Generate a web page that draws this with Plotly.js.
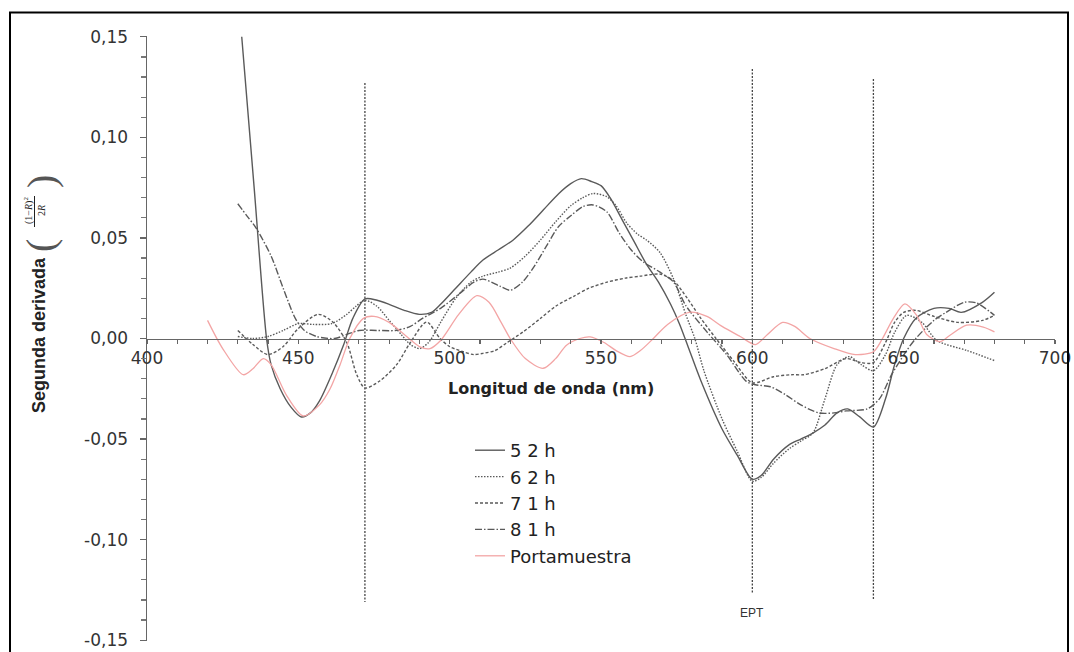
<!DOCTYPE html>
<html>
<head>
<meta charset="utf-8">
<script src="https://cdn.plot.ly/plotly-3.0.1.min.js"></script>
<style>html,body{margin:0;padding:0;background:#fff;}#chart{width:1074px;height:652px;}</style>
</head>
<body>
<div id="chart"></div>
<script>
// ---- data (wavelength nm, second derivative) ----
const seriesNames = ["5 2 h", "6 2 h", "7 1 h", "8 1 h", "Portamuestra"];

const wl52 = [431.3, 435.4, 439.5, 441, 444, 447.5, 451, 454, 457, 461, 465, 468, 472, 476, 480, 485, 490, 494, 497, 502, 507, 511, 516, 521, 526, 531, 536, 540, 543.5, 547, 550, 553, 557, 561, 565, 569, 573, 576, 579, 583, 590, 595, 600, 603, 607, 612, 616, 620, 624, 628, 631.5, 635.5, 640, 644, 647, 650, 654, 660, 665, 669, 676, 680];
const v52 = [0.150, 0.075, 0.000, -0.013, -0.025, -0.034, -0.039, -0.037, -0.031, -0.018, -0.003, 0.010, 0.0197, 0.019, 0.017, 0.014, 0.012, 0.013, 0.017, 0.025, 0.033, 0.039, 0.044, 0.049, 0.056, 0.064, 0.072, 0.077, 0.0795, 0.078, 0.076, 0.070, 0.059, 0.048, 0.037, 0.028, 0.017, 0.007, -0.005, -0.021, -0.045, -0.058, -0.070, -0.068, -0.060, -0.053, -0.050, -0.047, -0.043, -0.037, -0.035, -0.039, -0.044, -0.030, -0.013, 0.000, 0.010, 0.015, 0.015, 0.013, 0.018, 0.023];

const wl62 = [430, 435, 440, 445, 450, 455, 461, 466, 469, 472, 476, 480, 484, 487, 490, 493, 497, 502, 507, 511, 516, 520, 525, 530, 535, 540, 544, 547.4, 551.9, 555, 558.5, 562, 565, 569.5, 574, 578, 581, 584, 590, 595, 600, 603, 607, 612, 616, 620, 624, 628, 632, 636, 640, 644, 647, 651, 656, 661, 671, 680];
const v62 = [0.001, 0.000, 0.001, 0.004, 0.0074, 0.007, 0.0074, 0.012, 0.016, 0.019, 0.016, 0.009, 0.002, -0.003, -0.005, -0.002, 0.008, 0.020, 0.028, 0.031, 0.033, 0.035, 0.041, 0.049, 0.058, 0.066, 0.070, 0.0721, 0.0705, 0.066, 0.0574, 0.052, 0.049, 0.0427, 0.0295, 0.012, 0.000, -0.016, -0.040, -0.056, -0.071, -0.069, -0.062, -0.055, -0.051, -0.047, -0.030, -0.013, -0.009, -0.013, -0.016, -0.008, 0.003, 0.0115, 0.008, -0.001, -0.006, -0.011];

const wl71 = [430, 435, 440, 445, 450, 456.6, 461.5, 466, 469.3, 472, 477, 482.5, 487, 492.4, 496.8, 500, 504.5, 508, 511, 515, 519, 524.3, 530, 535, 541, 546, 552, 558, 563, 569.5, 574, 578.5, 583, 588, 594, 600, 607, 613, 617, 624, 631, 636, 640, 644, 647, 650, 654, 660, 668, 676, 680];
const v71 = [0.004, -0.003, -0.008, -0.004, 0.005, 0.012, 0.008, -0.002, -0.018, -0.0246, -0.021, -0.013, -0.002, 0.0082, 0.000, -0.004, -0.0066, -0.008, -0.0074, -0.006, -0.002, 0.0033, 0.010, 0.016, 0.021, 0.025, 0.028, 0.030, 0.031, 0.032, 0.0287, 0.020, 0.010, 0.000, -0.0115, -0.022, -0.019, -0.018, -0.018, -0.015, -0.010, -0.012, -0.012, -0.002, 0.008, 0.013, 0.014, 0.011, 0.008, 0.009, 0.0115];

const wl81 = [430, 433, 436, 441, 445, 449, 452, 456, 462, 466, 470, 476, 482, 487, 491, 497, 503, 508, 511, 516.6, 520, 524, 528, 532, 536, 540, 544, 547.4, 551.9, 556, 560, 564, 569.5, 574, 578, 585, 591.5, 598, 601, 606, 611, 616, 622, 627, 631, 638, 642, 646, 651, 654, 660, 664, 670, 674, 680];
const v81 = [0.067, 0.061, 0.055, 0.041, 0.025, 0.010, 0.004, 0.001, 0.000, 0.002, 0.004, 0.004, 0.004, 0.006, 0.010, 0.015, 0.022, 0.028, 0.0295, 0.026, 0.024, 0.028, 0.036, 0.046, 0.0557, 0.061, 0.0656, 0.0664, 0.063, 0.0525, 0.044, 0.038, 0.033, 0.028, 0.0164, 0.0033, -0.008, -0.0213, -0.023, -0.024, -0.028, -0.033, -0.037, -0.037, -0.036, -0.035, -0.030, -0.018, -0.006, 0.000, 0.009, 0.013, 0.018, 0.0177, 0.0115];

const wlPorta = [420, 425, 431.8, 435, 438.4, 441, 446, 451.6, 457, 460.5, 463.8, 467, 471.5, 475, 480, 485, 490, 493.5, 497, 503, 509, 513, 517, 520, 525, 530.9, 535, 538.6, 543, 546.4, 551, 555, 559.6, 563, 567.3, 572, 579.4, 585, 590, 596, 601, 605, 610, 614, 619, 627, 634, 640, 643, 646.6, 650.4, 654.3, 657.6, 662, 665.3, 670.8, 676.3, 680];
const vPorta = [0.009, -0.005, -0.018, -0.015, -0.010, -0.013, -0.028, -0.0385, -0.033, -0.025, -0.013, 0.000, 0.010, 0.011, 0.008, 0.002, -0.004, -0.005, -0.001, 0.012, 0.0213, 0.018, 0.008, 0.000, -0.010, -0.0148, -0.010, -0.0033, 0.000, 0.0008, -0.002, -0.006, -0.009, -0.006, 0.000, 0.007, 0.0131, 0.011, 0.006, 0.001, -0.003, 0.002, 0.008, 0.006, 0.000, -0.005, -0.008, -0.0066, 0.000, 0.010, 0.0172, 0.0115, 0.002, -0.0016, 0.0016, 0.0066, 0.0057, 0.0033];

// reference wavelengths (vertical dotted lines)
const refWl = [472, 600, 640];
const refTop = [0.127, 0.134, 0.129];
const refBottom = [-0.131, -0.127, -0.130];
const refLabel = ["", "EPT", ""];

// ticks
const xTickVals = [400, 450, 500, 550, 600, 650, 700];
const xTickText = ["400", "450", "500", "550", "600", "650", "700"];
const yTickVals = [-0.15, -0.10, -0.05, 0.00, 0.05, 0.10, 0.15];
const yTickText = ["-0,15", "-0,10", "-0,05", "0,00", "0,05", "0,10", "0,15"];

// ---- figure ----
const gray = "#5a5a5a";
const pink = "#f3a5a5";
const W = 1074, H = 652, mL = 147, mR = 19, mT = 36, mB = 11;
const pw = W - mL - mR, ph = H - mT - mB;
const px = x => (x - mL) / pw;
const py = y => (H - mB - y) / ph;

const styles = [
  {color: gray, dash: "solid", width: 1.4},
  {color: gray, dash: "1.5px,1.5px", width: 1.4},
  {color: gray, dash: "3px,2px", width: 1.4},
  {color: gray, dash: "7px,2px,1.5px,2px", width: 1.4},
  {color: pink, dash: "solid", width: 1.3}
];
const xs = [wl52, wl62, wl71, wl81, wlPorta];
const ys = [v52, v62, v71, v81, vPorta];

const traces = [];
for (let i = 0; i < refWl.length; i++) {
  traces.push({
    x: [refWl[i], refWl[i]], y: [refTop[i], refBottom[i]],
    mode: "lines", line: {color: "#444", width: 1.3, dash: "2px,1.5px"},
    showlegend: false, hoverinfo: "skip"
  });
}
for (let i = 0; i < seriesNames.length; i++) {
  traces.push({
    x: xs[i], y: ys[i], name: seriesNames[i], legendgroup: "g" + i,
    mode: "lines",
    line: {color: styles[i].color, dash: styles[i].dash, width: styles[i].width, shape: "spline", smoothing: 0.8}
  });
}

const annotations = [
  {xref: "paper", yref: "paper", x: px(551), y: py(389), text: "<b>Longitud de onda (nm)</b>", showarrow: false,
   font: {family: "DejaVu Sans, Arial, sans-serif", size: 16, color: "#222"}, xanchor: "center", yanchor: "middle"},
  {xref: "paper", yref: "paper", x: px(39), y: py(335), text: "<b>Segunda derivada</b>", showarrow: false, textangle: -90,
   font: {family: "Liberation Sans, Arial, sans-serif", size: 18, color: "#222"}, xanchor: "center", yanchor: "middle"},
  {xref: "paper", yref: "paper", x: px(28), y: py(211), text: "(1−<i>R</i>)<sup>2</sup>", showarrow: false, textangle: -90,
   font: {family: "Liberation Serif, serif", size: 10, color: "#222"}, xanchor: "center", yanchor: "middle"},
  {xref: "paper", yref: "paper", x: px(41), y: py(211), text: "2<i>R</i>", showarrow: false, textangle: -90,
   font: {family: "Liberation Serif, serif", size: 10, color: "#222"}, xanchor: "center", yanchor: "middle"},
  {xref: "paper", yref: "paper", x: px(41), y: py(246), text: "(", showarrow: false, textangle: -90,
   font: {family: "Liberation Serif, serif", size: 40, color: "#555"}, xanchor: "center", yanchor: "middle"},
  {xref: "paper", yref: "paper", x: px(41), y: py(182), text: ")", showarrow: false, textangle: -90,
   font: {family: "Liberation Serif, serif", size: 40, color: "#555"}, xanchor: "center", yanchor: "middle"}
];
for (let i = 0; i < refWl.length; i++) {
  if (refLabel[i]) {
    annotations.push({x: refWl[i], y: refBottom[i], xref: "x", yref: "y", text: refLabel[i], showarrow: false,
      yanchor: "top", yshift: -10, font: {family: "Liberation Sans, Arial, sans-serif", size: 12, color: "#333"}});
  }
}

const layout = {
  width: W, height: H,
  margin: {l: mL, r: mR, t: mT, b: mB},
  paper_bgcolor: "#fff", plot_bgcolor: "#fff",
  separators: ",.",
  showlegend: true,
  legend: {x: px(470), y: py(432), xanchor: "left", yanchor: "top", traceorder: "grouped", tracegroupgap: 0,
    font: {family: "DejaVu Sans, Arial, sans-serif", size: 18, color: "#222"}, bgcolor: "rgba(0,0,0,0)"},
  xaxis: {
    range: [400, 700], anchor: "free", position: 0.5, showline: true, linecolor: "#666", linewidth: 1.5,
    ticks: "outside", ticklen: 4, tickcolor: "#666", tickwidth: 1.2,
    tickvals: xTickVals, ticktext: xTickText, ticklabeloverflow: "allow",
    minor: {dtick: 10, ticks: "outside", ticklen: 4, tickcolor: "#666", showgrid: false},
    showgrid: false, zeroline: false,
    tickfont: {family: "DejaVu Sans, Arial, sans-serif", size: 17, color: "#333"}
  },
  yaxis: {
    range: [-0.1504, 0.1504], showline: true, linecolor: "#666", linewidth: 1.5,
    ticks: "outside", ticklen: 6, tickcolor: "#666", tickwidth: 1.2,
    tickvals: yTickVals, ticktext: yTickText, ticklabelstandoff: 8, ticklabeloverflow: "allow",
    minor: {dtick: 0.01, ticks: "outside", ticklen: 5, tickcolor: "#777", showgrid: false},
    showgrid: false, zeroline: false,
    tickfont: {family: "DejaVu Sans, Arial, sans-serif", size: 17, color: "#333"}
  },
  shapes: [
    {type: "rect", xref: "paper", yref: "paper", x0: px(10), x1: px(1068), y0: py(662), y1: py(12.5),
     line: {color: "#000", width: 2}, fillcolor: "rgba(0,0,0,0)"},
    {type: "line", xref: "paper", yref: "paper", x0: px(34.5), x1: px(34.5), y0: py(196), y1: py(227),
     line: {color: "#222", width: 1}}
  ],
  annotations: annotations,
  hovermode: false
};

Plotly.newPlot("chart", traces, layout, {displayModeBar: false, staticPlot: true});
</script>
</body>
</html>
